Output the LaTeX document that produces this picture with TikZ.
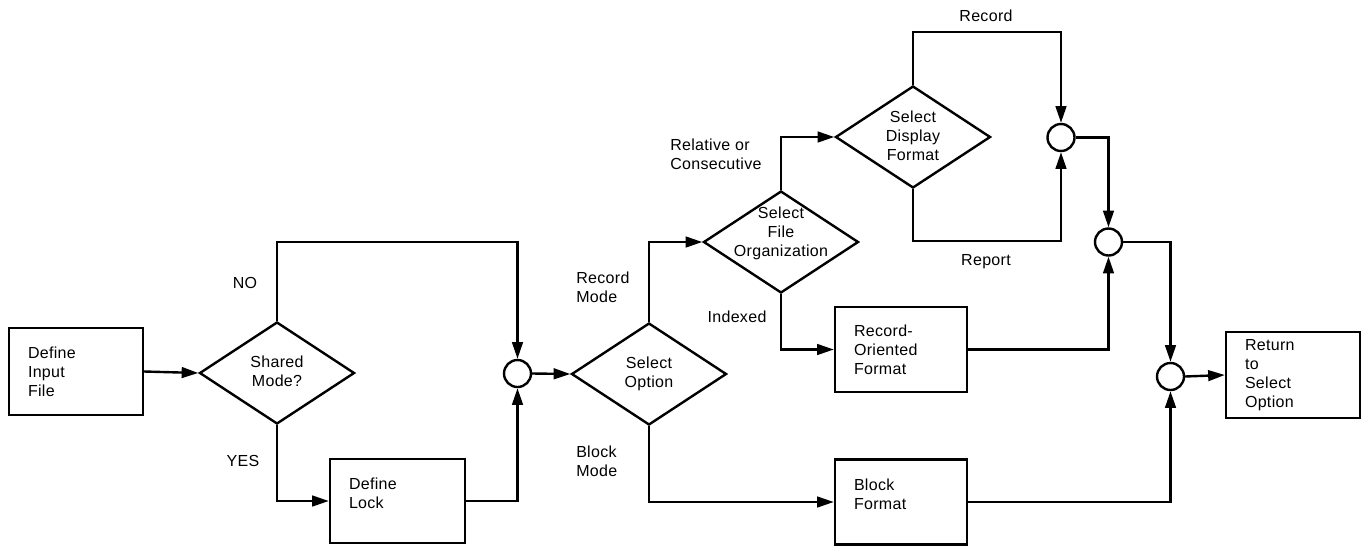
\documentclass[tikz,border=0pt]{standalone}
\usepackage{fontspec}
\setmainfont{Liberation Sans}[LetterSpace=2]
\usetikzlibrary{arrows.meta,shapes.geometric}

% centred text of zero size, so a decision diamond keeps its drawn size
\newcommand\dtext[2][0pt]{\raisebox{\dimexpr#1-0.5ex\relax}[0pt][0pt]{\makebox[0pt]{\begin{tabular}{@{}c@{}}#2\end{tabular}}}}
% extra depth under the last line, so short texts sit a little high in their box
\newcommand\liftup{\rule[-11pt]{0pt}{0pt}}

\tikzset{
  flow/.style={line width=1.8pt, line join=miter},
  arr/.style={flow, -{Triangle[length=12.5pt,width=8pt]}},
  stepbox/.style={draw, line width=1.8pt, rectangle, align=left,
    inner xsep=14.25pt, inner ysep=0pt, text width=#1*0.75pt-28.5pt},
  decision/.style={draw, line width=1.8pt, diamond, inner sep=0pt,
    minimum width=155*0.75pt, minimum height=102*0.75pt},
  junction/.style={draw, line width=1.8pt, circle, inner sep=0pt, minimum size=27*0.75pt},
  lbl/.style={align=left, inner sep=0pt},
}

\begin{document}
\begin{tikzpicture}[x=0.75pt, y=-0.75pt,
  every node/.style={font=\fontsize{12}{14.25}\selectfont}]
\useasboundingbox (0,0) rectangle (1364,547);

% process boxes
\node[stepbox=134, minimum height=87*0.75pt] (input) at (76,371.5) {Define\\Input\\File};
\node[stepbox=135, minimum height=84*0.75pt] (lock) at (397.5,501) {Define\\Lock\liftup};
\node[stepbox=132, minimum height=85*0.75pt] (recfmt) at (901,349.5) {Record-\\Oriented\\Format};
\node[stepbox=132, minimum height=85*0.75pt] (blkfmt) at (901,502) {Block\\Format\liftup};
\node[stepbox=134, minimum height=86*0.75pt] (ret) at (1293,375) {Return\\to\\Select\\Option};

% decisions
\node[decision] (shared) at (277,373) {\dtext{Shared\\Mode?}};
\node[decision] (option) at (649,374) {\dtext{Select\\Option}};
\node[decision] (fileorg) at (781,242) {\dtext[6.5pt]{Select\\File\\Organization}};
\node[decision] (display) at (913,137) {\dtext{Select\\Display\\Format}};

% junctions
\node[junction] (j1) at (517.5,373.5) {};
\node[junction] (j2) at (1061,137.5) {};
\node[junction] (j3) at (1108.5,242) {};
\node[junction] (j4) at (1170.5,376.5) {};

% connectors
\draw[arr] (input.east) -- (shared.west);
\draw[arr] (shared.north) -- ++(0,-79) -| (j1.north);
\draw[arr] (shared.south) |- (lock.west);
\draw[arr] (lock.east) -| (j1.south);
\draw[arr] (j1.east) -- (option.west);
\draw[arr] (option.north) |- (fileorg.west);
\draw[arr] (option.south) |- (blkfmt.west);
\draw[arr] (fileorg.north) |- (display.west);
\draw[arr] (fileorg.south) |- (recfmt.west);
\draw[arr] (display.north) -- ++(0,-53) -| (j2.north);
\draw[arr] (display.south) -- ++(0,52) -| (j2.south);
\draw[arr] (j2.east) -| (j3.north);
\draw[arr] (recfmt.east) -| (j3.south);
\draw[arr] (j3.east) -| (j4.north);
\draw[arr] (blkfmt.east) -| (j4.south);
\draw[arr] (j4.east) -- (ret.west);

% branch labels
\node[lbl] (lno) at (245,283) {NO};
\node[lbl] (lyes) at (243,461) {YES};
\node[lbl, anchor=west] (lrec) at (576,287.5) {Record\\Mode};
\node[lbl, anchor=west] (lblk) at (576,461.5) {Block\\Mode};
\node[lbl, anchor=west] (lrel) at (670,154) {Relative or\\Consecutive};
\node[lbl] (lidx) at (737,317) {Indexed};
\node[lbl] (lrcd) at (986,16) {Record};
\node[lbl] (lrpt) at (986,262) {Report};
\end{tikzpicture}
\end{document}
